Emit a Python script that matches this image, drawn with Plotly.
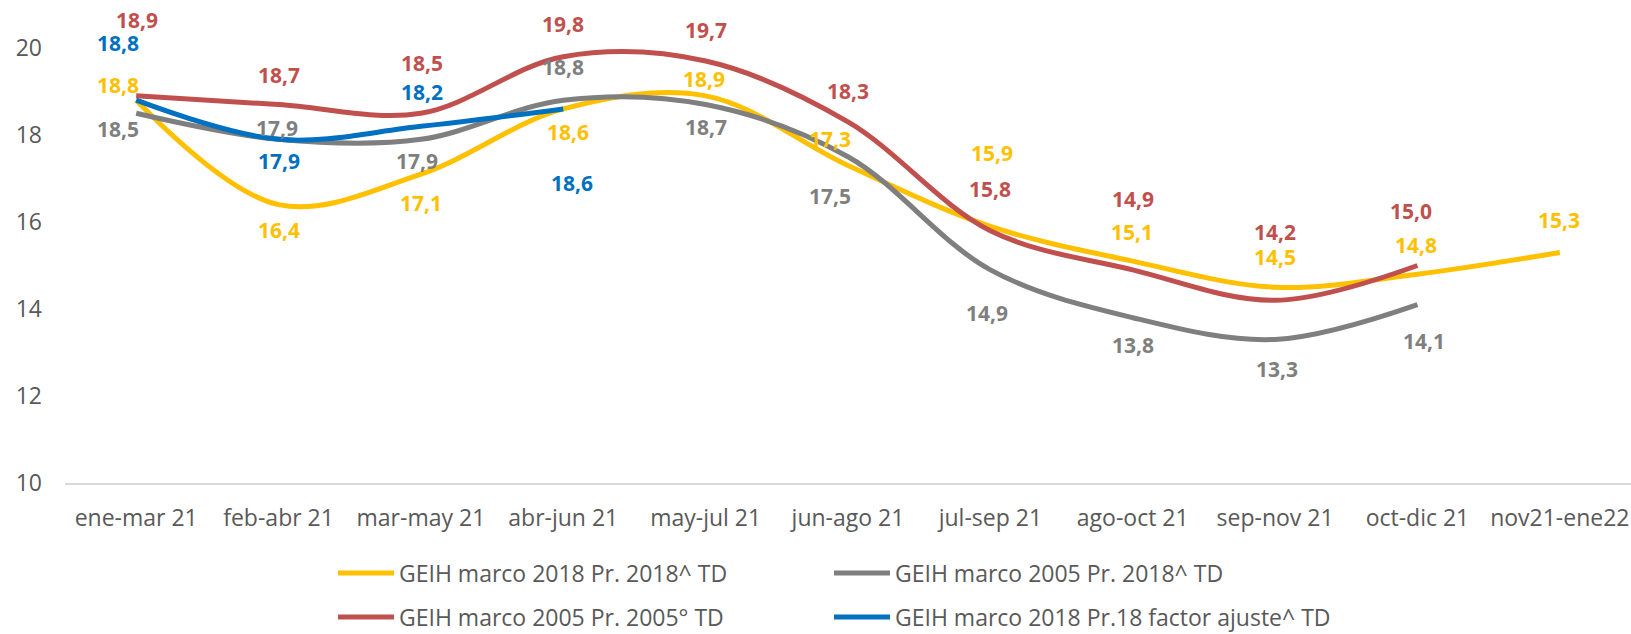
import plotly.graph_objects as go

categories = ["ene-mar 21", "feb-abr 21", "mar-may 21", "abr-jun 21", "may-jul 21",
              "jun-ago 21", "jul-sep 21", "ago-oct 21", "sep-nov 21", "oct-dic 21",
              "nov21-ene22"]

s_2018_pr2018 = [18.8, 16.4, 17.1, 18.6, 18.9, 17.3, 15.9, 15.1, 14.5, 14.8, 15.3]
s_2005_pr2018 = [18.5, 17.9, 17.9, 18.8, 18.7, 17.5, 14.9, 13.8, 13.3, 14.1]
s_2005_pr2005 = [18.9, 18.7, 18.5, 19.8, 19.7, 18.3, 15.8, 14.9, 14.2, 15.0]
s_2018_ajuste = [18.8, 17.9, 18.2, 18.6]

names = ["GEIH marco 2018 Pr. 2018^ TD", "GEIH marco 2005 Pr. 2018^ TD",
         "GEIH marco 2005 Pr. 2005° TD", "GEIH marco 2018 Pr.18 factor ajuste^ TD"]

y_ticks = [10, 12, 14, 16, 18, 20]

# style: colours and label offsets (pixels, dx, dy up)
colors = ["#FFC000", "#7F7F7F", "#C0504D", "#0070C0"]
offsets = [
    [(-18, 15), (0, -25), (0, -29), (5, -23), (-2, 17), (-18, 26), (2, 73), (-1, 29), (0, 30), (-1, 29), (-1, 32)],
    [(-18, -16), (-2, 11), (-4, -22), (0, 33), (0, -22), (-18, -39), (-3, -43), (0, -27), (2, -30), (7, -36)],
    [(1, 76), (0, 30), (1, 50), (0, 33), (0, 31), (0, 31), (0, 42), (0, 71), (0, 68), (-6, 55)],
    [(-18, 57), (0, -22), (1, 34), (9, -74)],
]

series = [s_2018_pr2018, s_2005_pr2018, s_2005_pr2005, s_2018_ajuste]
legend_ids = ["legend", "legend2", "legend3", "legend4"]

FONT = "Open Sans, DejaVu Sans, sans-serif"

fig = go.Figure()
annotations = []
for i, vals in enumerate(series):
    xs = categories[:len(vals)]
    fig.add_trace(go.Scatter(
        x=xs, y=vals, mode="lines", name=names[i],
        line=dict(color=colors[i], width=5, shape="spline", smoothing=1),
        cliponaxis=False, legend=legend_ids[i], hoverinfo="x+y",
    ))
    for j, v in enumerate(vals):
        dx, dy = offsets[i][j]
        annotations.append(dict(
            x=xs[j], y=v, xref="x", yref="y",
            text="<b>" + f"{v:.1f}".replace(".", ",") + "</b>",
            showarrow=False, xshift=dx, yshift=dy,
            font=dict(family=FONT, size=21, color=colors[i]),
        ))

ITEMW = 56
# legend placement: text start x (px) for columns, row centre y (px)
col_text_x = [399, 895]
row_y = [573, 617]


def legend_box(col, row):
    return dict(orientation="h", xref="container", yref="container",
                x=(col_text_x[col] - ITEMW - 10) / 1631, y=1 - row_y[row] / 634,
                xanchor="left", yanchor="middle", itemwidth=ITEMW,
                font=dict(family=FONT, size=23, color="#595959"),
                bgcolor="rgba(0,0,0,0)")


fig.update_layout(
    width=1631, height=634,
    margin=dict(l=65, r=0, t=48, b=151),
    paper_bgcolor="white", plot_bgcolor="white",
    font=dict(family=FONT, color="#595959", size=23),
    annotations=annotations,
    showlegend=True,
    legend=legend_box(0, 0),
    legend2=legend_box(1, 0),
    legend3=legend_box(0, 1),
    legend4=legend_box(1, 1),
)

fig.update_xaxes(
    type="category", categoryorder="array", categoryarray=categories,
    range=[-0.5, len(categories) - 0.5],
    showgrid=False, zeroline=False,
    showline=True, linecolor="#D9D9D9", linewidth=2,
    ticks="", ticklabelstandoff=13,
    tickfont=dict(family=FONT, size=23, color="#595959"),
)
fig.update_yaxes(
    range=[10, 20], tickvals=y_ticks, ticktext=[str(t) for t in y_ticks],
    showgrid=False, zeroline=False, showline=False,
    ticks="", ticklabelstandoff=22,
    tickfont=dict(family=FONT, size=23, color="#595959"),
)

fig.write_html(
    "out.html",
    config={"displayModeBar": False},
    post_script="document.body.style.margin='0';document.body.style.padding='0';"
                "document.body.style.overflow='hidden';",
)
